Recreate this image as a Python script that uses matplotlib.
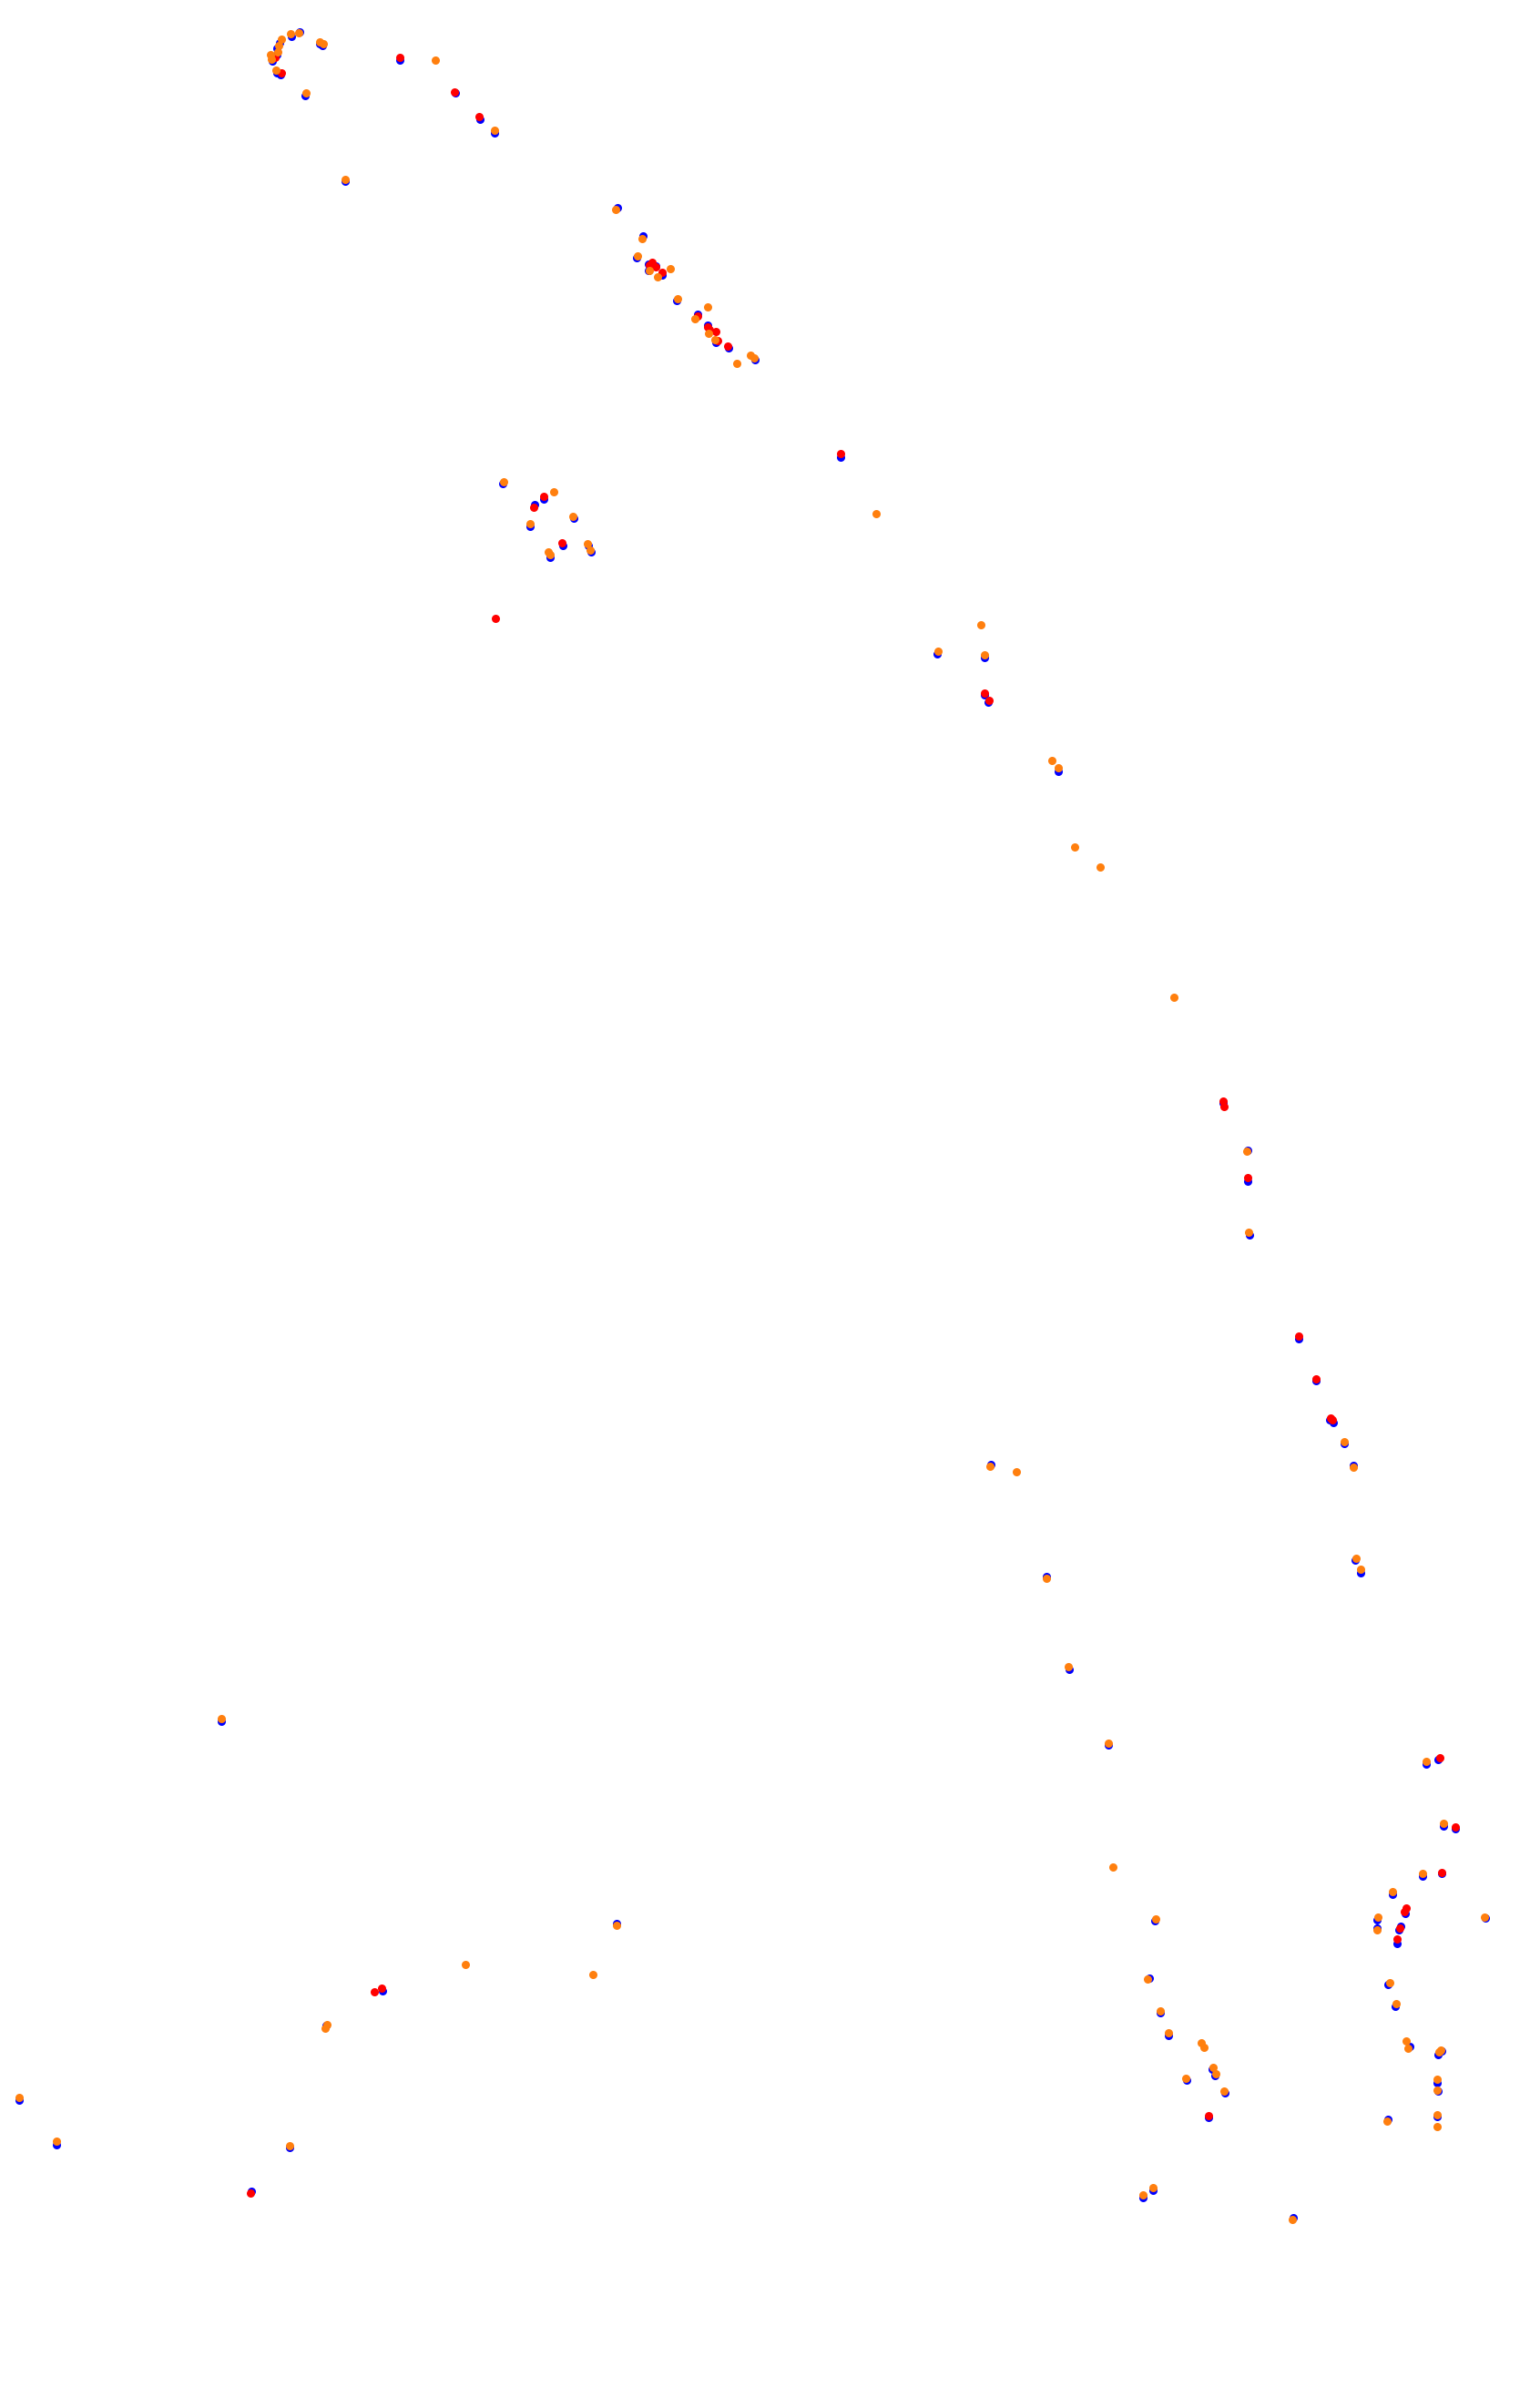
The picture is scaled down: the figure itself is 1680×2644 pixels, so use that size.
import matplotlib
matplotlib.use("Agg")
from matplotlib import pyplot as plt

# point positions (x to the right, y downwards)
blue_x = [320, 329, 351, 354, 307, 304, 304, 299, 304, 308, 335, 379, 439, 500, 527, 543,
          678, 706, 699, 712, 712, 720, 727, 743, 766, 777, 786, 800, 829,
          552, 597, 587, 630, 582, 618, 646, 649, 604, 923,
          1029, 1081, 1081, 1085, 1162,
          1343, 1370, 1370, 1372,
          1426, 1445, 1460, 1464, 1476, 1486, 1488, 1494, 1088, 1149,
          1174, 1217,
          1268, 1262, 1274, 1283, 1331, 1334, 1303, 1345, 1327, 1266, 1255, 1420,
          1566, 1579, 1585, 1598, 1562, 1583, 1529, 1543, 1631, 1512, 1512, 1538, 1536, 1534,
          1524, 1532, 1548, 1583, 1579, 1578, 1579, 1578, 1524,
          243, 677, 420, 358, 21, 62, 318, 276]
blue_y = [40, 35, 48, 50, 47, 53, 60, 67, 80, 82, 105, 199, 66, 102, 131, 146,
          228, 259, 283, 290, 297, 292, 302, 330, 345, 357, 376, 382, 395,
          531, 548, 554, 569, 578, 599, 599, 606, 612, 502,
          718, 722, 763, 771, 847,
          1211, 1263, 1297, 1356,
          1470, 1516, 1559, 1562, 1585, 1609, 1713, 1727, 1608, 1731,
          1833, 1916,
          2109, 2172, 2210, 2235, 2272, 2279, 2284, 2298, 2325, 2405, 2413, 2435,
          1937, 1932, 2005, 2008, 2060, 2057, 2080, 2101, 2106, 2108, 2117, 2115, 2119, 2134,
          2179, 2203, 2247, 2252, 2256, 2287, 2296, 2324, 2327,
          1890, 2112, 2186, 2224, 2306, 2355, 2358, 2406]

red_x = [302, 309, 439, 499, 526,
         716, 713, 720, 727, 766, 777, 779, 786, 788, 799,
         597, 586, 617, 544, 923,
         1081, 1086,
         1343, 1344, 1370,
         1426, 1445, 1461, 1463,
         1327,
         1581, 1598, 1583, 1544, 1542, 1537, 1534,
         419, 411, 275]
red_y = [63, 80, 63, 101, 128,
         288, 291, 293, 299, 347, 359, 362, 364, 374, 380,
         545, 557, 596, 679, 498,
         761, 769,
         1209, 1215, 1293,
         1467, 1514, 1557, 1559,
         2323,
         1930, 2006, 2056, 2095, 2099, 2117, 2129,
         2183, 2187, 2408]

orange_x = [319, 328, 351, 355, 309, 306, 305, 297, 298, 303, 336, 379, 478, 543,
            676, 705, 700, 722, 713, 736, 744, 777, 763, 778, 785, 824, 828, 809,
            553, 608, 629, 582, 645, 648, 602, 604, 962,
            1077, 1030, 1081, 1155, 1162, 1180, 1208,
            1289, 1369, 1371,
            1476, 1486, 1489, 1494, 1087, 1116, 1149,
            1173, 1217, 1222,
            1269, 1260, 1274, 1283, 1319, 1322, 1332, 1335, 1302, 1344, 1266, 1255, 1419,
            1566, 1585, 1562, 1529, 1630, 1513, 1512,
            1526, 1533, 1544, 1546, 1582, 1580, 1578, 1578, 1578, 1578, 1523,
            243, 677, 511, 651, 359, 357, 21, 62, 318]
orange_y = [37, 36, 46, 48, 43, 50, 57, 60, 65, 77, 102, 197, 66, 143,
            230, 262, 281, 304, 297, 295, 328, 337, 350, 366, 373, 390, 393, 399,
            529, 540, 567, 575, 597, 604, 606, 609, 564,
            686, 715, 719, 835, 843, 930, 952,
            1095, 1264, 1353,
            1583, 1611, 1711, 1723, 1610, 1616, 1733,
            1830, 1914, 2050,
            2107, 2173, 2208, 2232, 2243, 2248, 2270, 2277, 2282, 2296, 2402, 2410, 2437,
            1934, 2002, 2057, 2077, 2105, 2105, 2119,
            2177, 2200, 2241, 2249, 2251, 2253, 2283, 2295, 2322, 2335, 2329,
            1887, 2114, 2157, 2168, 2223, 2227, 2303, 2351, 2356]

fig = plt.figure(figsize=(16.8, 26.44), dpi=100)
ax = fig.add_axes([0, 0, 1, 1])
ax.scatter(blue_x, blue_y, s=42, c="blue", linewidths=0)
ax.scatter(red_x, red_y, s=42, c="red", linewidths=0)
ax.scatter(orange_x, orange_y, s=42, c="#ff7f0e", linewidths=0)
ax.set_xlim(0, 1680)
ax.set_ylim(2644, 0)
ax.axis("off")

fig.savefig("out.png", dpi=100, facecolor="white")
